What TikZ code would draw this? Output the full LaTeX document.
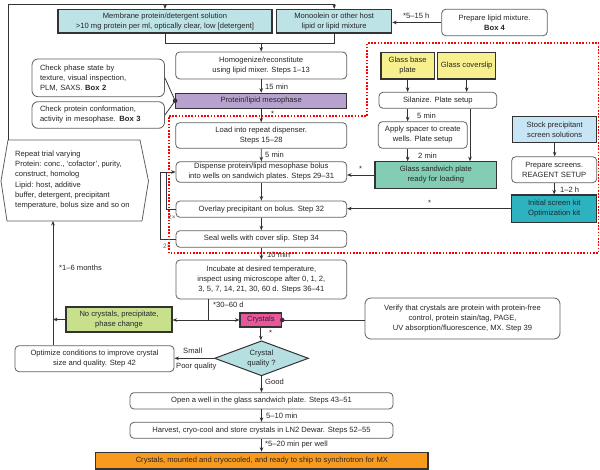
\documentclass[tikz,border=0pt]{standalone}
\usepackage{fontspec}
\setmainfont{Liberation Sans}
\usetikzlibrary{arrows.meta,shapes.geometric}
\definecolor{txt}{HTML}{262626}
\definecolor{memc}{HTML}{BDE3E6}
\definecolor{mesoc}{HTML}{B7A1CF}
\definecolor{yel}{HTML}{F8F08E}
\definecolor{sandc}{HTML}{82CDB3}
\definecolor{stockc}{HTML}{C8E5F5}
\definecolor{kitc}{HTML}{2DB2BF}
\definecolor{nocrc}{HTML}{C8E08C}
\definecolor{crysc}{HTML}{E8579B}
\definecolor{diamc}{HTML}{B5DFE1}
\definecolor{orc}{HTML}{F79A1E}
\definecolor{bord}{HTML}{606060}
\definecolor{dark}{HTML}{333333}
\definecolor{lc}{HTML}{333333}
\begin{document}
\begin{tikzpicture}[x=1pt,y=-1pt,
  font=\fontsize{7.6}{10}\selectfont, text=txt,
  rbox/.style={draw=bord, line width=0.8pt, rounded corners=4pt, fill=white, inner sep=1pt, align=center},
  fbox/.style={draw=dark, line width=1.1pt, inner sep=1pt, align=center},
  arr/.style={-{Stealth[length=4.5pt,width=3.6pt]}, draw=lc, line width=0.75pt},
  ln/.style={draw=lc, line width=0.75pt},
  lbl/.style={anchor=west, inner sep=0pt},
  redline/.style={draw=red, line width=1.6pt, dash pattern=on 1.6pt off 1.6pt}]
\useasboundingbox[fill=white] (0,0) rectangle (600,470);

% top row
\node[fbox, fill=memc, minimum width=214pt, minimum height=23.5pt] (memb) at (165,21.25)
  {Membrane protein/detergent solution\\>10 mg protein per ml, optically clear, low [detergent]};
\node[fbox, fill=memc, minimum width=115pt, minimum height=23.5pt] (mono) at (334.2,21.25)
  {Monoolein or other host\\lipid or lipid mixture};
\node[rbox, minimum width=105.6pt, minimum height=26.4pt] (lipid) at (494.5,22.5)
  {Prepare lipid mixture.\\\textbf{Box 4}};

% main column
\node[rbox, minimum width=171pt, minimum height=27pt] (homog) at (261.2,65.5)
  {Homogenize/reconstitute\\using lipid mixer. Steps 1--13};
\node[fbox, fill=mesoc, minimum width=171pt, minimum height=15pt] (meso) at (261.2,100.8)
  {Protein/lipid mesophase};
\node[rbox, minimum width=171pt, minimum height=25.6pt] (load) at (261.2,135.5)
  {Load into repeat dispenser.\\Steps 15--28};
\node[rbox, minimum width=170.7pt, minimum height=20.6pt] (disp) at (261.35,172)
  {Dispense protein/lipid mesophase bolus\\into wells on sandwich plates. Steps 29--31};
\node[rbox, minimum width=170.7pt, minimum height=16.3pt] (overlay) at (261.35,209.15)
  {Overlay precipitant on bolus. Step 32};
\node[rbox, minimum width=170.7pt, minimum height=16.6pt] (seal) at (261.35,239)
  {Seal wells with cover slip. Step 34};
\node[rbox, minimum width=170.7pt, minimum height=39pt] (incub) at (261.35,279.5)
  {Incubate at desired temperature,\\inspect using microscope after 0, 1, 2,\\3, 5, 7, 14, 21, 30, 60 d. Steps 36--41};

% check boxes
\node[rbox, rounded corners=6pt, minimum width=132.5pt, minimum height=37.7pt, text width=116.5pt, inner xsep=8pt, align=left] (phase) at (98.25,77.85)
  {Check phase state by\\texture, visual inspection,\\PLM, SAXS. \textbf{Box 2}};
\node[rbox, rounded corners=6pt, minimum width=132.5pt, minimum height=26.6pt, text width=116.5pt, inner xsep=8pt, align=left] (conf) at (98.25,115)
  {Check protein conformation,\\activity in mesophase. \textbf{Box 3}};

% plate column
\node[fbox, fill=yel, minimum width=53.3pt, minimum height=26.3pt] (base) at (407.65,65.85) {Glass base\\plate};
\node[fbox, fill=yel, minimum width=58pt, minimum height=26.3pt] (cover) at (466.7,65.85) {Glass coverslip};
\node[rbox, minimum width=117.7pt, minimum height=16pt] (silan) at (437.85,100.3) {Silanize. Plate setup};
\node[rbox, minimum width=89pt, minimum height=26.6pt] (spacer) at (422.8,135) {Apply spacer to create\\wells. Plate setup};
\node[fbox, fill=sandc, minimum width=121.7pt, minimum height=26.6pt] (sandw) at (435.85,175) {Glass sandwich plate\\ready for loading};

% screen column
\node[fbox, fill=stockc, minimum width=84pt, minimum height=26pt] (stock) at (554.7,129.7) {Stock precipitant\\screen solutions};
\node[rbox, minimum width=85pt, minimum height=26pt] (prep) at (554.2,169.7) {Prepare screens.\\REAGENT SETUP};
\node[fbox, fill=kitc, minimum width=85pt, minimum height=27.3pt] (kit) at (554.2,208.65) {Initial screen kit\\Optimization kit};

% hexagon
\coordinate (h1) at (8,140);
\coordinate (h2) at (140,140);
\coordinate (h3) at (148.5,181);
\coordinate (h4) at (142,221);
\coordinate (h5) at (7,221);
\coordinate (h6) at (1,181);
\draw[draw=bord, line width=0.8pt, fill=white] (h1) -- (h2) -- (h3) -- (h4) -- (h5) -- (h6) -- cycle;
\node[anchor=west, align=left, inner sep=0pt, font=\fontsize{7.6}{10.3}\selectfont] (hextxt) at (15,180)
  {Repeat trial varying\\Protein: conc., ‘cofactor’, purity,\\construct, homolog\\Lipid: host, additive\\buffer, detergent, precipitant\\temperature, bolus size and so on};

% lower part
\node[fbox, fill=nocrc, minimum width=106pt, minimum height=25pt] (nocr) at (119,319.5) {No crystals, precipitate,\\phase change};
\node[fbox, fill=crysc, minimum width=41.7pt, minimum height=14pt] (cryst) at (260.85,320) {Crystals};
\node[rbox, rounded corners=6pt, minimum width=195pt, minimum height=41pt] (verify) at (462.5,318.5)
  {Verify that crystals are protein with protein-free\\control, protein stain/tag, PAGE,\\UV absorption/fluorescence, MX. Step 39};
\node[diamond, draw=dark, fill=diamc, line width=1pt, aspect=2.7, inner sep=0pt, minimum width=94pt, minimum height=35pt, align=center] (diam) at (261.5,358.3)
  {Crystal\\quality ?};
\node[rbox, minimum width=159pt, minimum height=26pt] (optim) at (94.5,358.7)
  {Optimize conditions to improve crystal\\size and quality. Step 42};
\node[rbox, minimum width=263pt, minimum height=16.3pt] (open) at (261.5,400.85)
  {Open a well in the glass sandwich plate. Steps 43--51};
\node[rbox, minimum width=263pt, minimum height=16pt] (harv) at (261.5,430.3)
  {Harvest, cryo-cool and store crystals in LN2 Dewar. Steps 52--55};
\node[fbox, fill=orc, minimum width=332.3pt, minimum height=16.7pt] (final) at (261.85,460.65)
  {Crystals, mounted and cryocooled, and ready to ship to synchrotron for MX};

% connectors: top
\coordinate (ftop) at (8,4);
\draw[arr] (h1) -- (ftop) -| (mono.north);
\draw[arr] (ftop -| memb.north) -- (memb.north);
\coordinate (mrg) at (261.2,43);
\draw[ln] (memb.south) |- (mrg);
\draw[ln] (mono.south) |- (mrg);
\draw[arr] (mrg) -- (homog.north);
\draw[arr] (lipid.west) -- (mono.east |- lipid.west);
\draw[arr] (homog.south) -- (meso.north);
\draw[arr] (meso.south) -- (load.north);
\draw[arr] (load.south) -- (disp.north);
\draw[arr] (disp.south) -- (overlay.north);
\draw[arr] (overlay.south) -- (seal.north);
\draw[arr] (seal.south) -- (incub.north);

% check boxes dot
\draw[ln] (phase.east) -- (meso.west);
\draw[ln] (conf.east) -- (meso.west);
\fill[lc] (meso.west) circle (2.3pt);

% loops
\coordinate (lpa) at (166.7,172);
\coordinate (lpb) at (160,172);
\draw[ln] (overlay.west) -| (lpa);
\draw[ln] (seal.west) -| (lpb);
\draw[arr] (lpb) -- (disp.west);
\node[lbl, font=\fontsize{6.5}{7}\selectfont, text=bord] (two1) at (168,217.5) {2×};
\node[lbl, font=\fontsize{6.5}{7}\selectfont, text=bord] (two2) at (163,246.5) {2×};

% plate connectors
\draw[arr] (base.south) -- (base.south |- silan.north);
\draw[arr] (cover.south) -- (cover.south |- silan.north);
\draw[arr] (silan.south -| base.south) -- (spacer.north -| base.south);
\draw[arr] (silan.south -| 470,0) -- (sandw.north -| 470,0);
\draw[arr] (spacer.south -| base.south) -- (sandw.north -| base.south);
\draw[arr] (sandw.west) -- (disp.east |- sandw.west);
\draw[arr] (stock.south) -- (stock.south |- prep.north);
\draw[arr] (prep.south) -- (kit.north);
\draw[arr] (kit.west) -- (overlay.east |- kit.west);

% lower connectors
\coordinate (jn) at (208,320);
\draw[ln] (jn |- incub.south) -- (jn);
\draw[arr] (jn) -- (cryst.west);
\draw[arr] (jn) -- (nocr.east |- jn);
\coordinate (hexB) at (53,221);
\draw[arr] (hexB |- optim.north) -- (hexB);
\draw[arr] (nocr.west) -- (hexB |- nocr.west);
\draw[ln] (cryst.east) -- (verify.west |- cryst.east);
\fill[lc] (cryst.east) circle (2.3pt);
\draw[arr] (cryst.south) -- (cryst.south |- diam.north);
\draw[arr] (diam.west) -- (optim.east |- diam.west);
\draw[arr] (diam.south) -- (diam.south |- open.north);
\draw[arr] (open.south) -- (harv.north);
\draw[arr] (harv.south) -- (harv.south |- final.north);

% labels
\node[lbl] (l1) at (403,16) {*5--15 h};
\node[lbl] (l2) at (265,87) {15 min};
\node[lbl] (l3) at (271,113.5) {*};
\node[lbl] (l4) at (265,155) {5 min};
\node[lbl] (l5) at (417,116) {5 min};
\node[lbl] (l6) at (418,156) {2 min};
\node[lbl] (l7) at (560,190) {1--2 h};
\node[lbl] (l8) at (359,168.5) {*};
\node[lbl] (l9) at (428,202.5) {*};
\node[lbl] (l10) at (267,254.5) {10 min};
\node[lbl] (l11) at (213,305) {*30--60 d};
\node[lbl] (l12) at (269,333) {*};
\node[lbl] (l13) at (183,351) {Small};
\node[lbl] (l14) at (176,367) {Poor quality};
\node[lbl] (l15) at (265,382) {Good};
\node[lbl] (l16) at (266,416) {5--10 min};
\node[lbl] (l17) at (265,444.5) {*5--20 min per well};
\node[lbl] (l18) at (59,268) {*1--6 months};

% red dotted region
\draw[redline] (169,116) -- (367,116) -- (367,43) -- (598.5,43) -- (598.5,253.3) -- (169,253.3) -- cycle;
\end{tikzpicture}
\end{document}
